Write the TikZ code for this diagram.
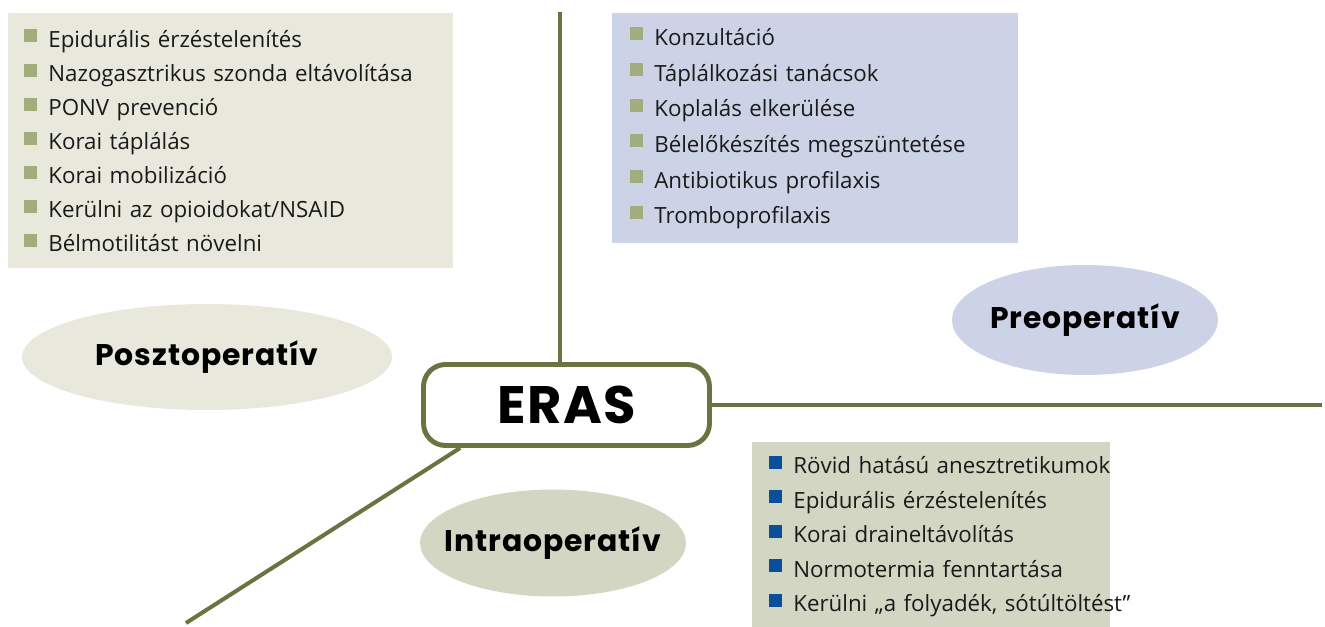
\documentclass[tikz,border=0pt]{standalone}
\usepackage{fontspec}
\setmainfont{Open Sans}
\newfontfamily\headfont[LetterSpace=3]{Poppins}
\usetikzlibrary{shapes.geometric, positioning}

\definecolor{postfill}{HTML}{E8E9DC}
\definecolor{prefill}{HTML}{CDD3E7}
\definecolor{intrafill}{HTML}{D2D6C2}
\definecolor{bulgreen}{HTML}{A2AD7E}
\definecolor{bulblue}{HTML}{0A4F9B}
\definecolor{branchcol}{HTML}{6A7442}
\definecolor{textcol}{HTML}{1A1A1A}

\newlength\ind
\newcommand{\gitem}[1]{\hspace*{\ind}\mbox{\textcolor{bulgreen}{\rule[0.1cm]{0.26cm}{0.26cm}}\hspace{0.22cm}#1}}
\newcommand{\bitem}[1]{\hspace*{\ind}\mbox{\textcolor{bulblue}{\rule[0.1cm]{0.26cm}{0.26cm}}\hspace{0.22cm}#1}}
\newcommand{\phasetext}[1]{\makebox[0pt]{#1}}

\tikzset{
  x=0.02cm, y=-0.02cm,
  branch/.style={draw=branchcol, line width=2.3pt},
  listbox/.style={anchor=north west, align=left, inner xsep=0pt, inner ysep=0pt,
    text=textcol, font=\fontsize{12.7}{19.4}\selectfont},
  phase/.style={ellipse, inner sep=0pt, font=\headfont\bfseries\fontsize{17}{20}\selectfont},
  hub/.style={draw=branchcol, line width=2.8pt, rounded corners=0.44cm, fill=white,
    minimum width=5.72cm, minimum height=1.62cm,
    font=\headfont\bfseries\fontsize{30}{34}\selectfont}
}

\begin{document}
\begin{tikzpicture}
  \useasboundingbox (0,0) rectangle (1325,626);

  % lists
  \node[listbox, fill=postfill, text width=8.9cm, minimum height=5.1cm,
    execute at begin node={\setlength{\ind}{0.32cm}}] (postlist) at (8,13) {%
    \gitem{Epidurális érzéstelenítés}\\
    \gitem{Nazogasztrikus szonda eltávolítása}\\
    \gitem{PONV prevenció}\\
    \gitem{Korai táplálás}\\
    \gitem{Korai mobilizáció}\\
    \gitem{Kerülni az opioidokat/NSAID}\\
    \gitem{Bélmotilitást növelni}};
  \node[listbox, fill=prefill, text width=8.12cm, minimum height=4.6cm,
    font=\fontsize{12.7}{20.3}\selectfont,
    execute at begin node={\setlength{\ind}{0.36cm}}] (prelist) at (612,13) {%
    \gitem{Konzultáció}\\
    \gitem{Táplálkozási tanácsok}\\
    \gitem{Koplalás elkerülése}\\
    \gitem{Bélelőkészítés megszüntetése}\\
    \gitem{Antibiotikus profilaxis}\\
    \gitem{Tromboprofilaxis}};
  \node[listbox, fill=intrafill, text width=7.16cm, minimum height=3.76cm,
    font=\fontsize{12.7}{19.6}\selectfont,
    execute at begin node={\setlength{\ind}{0.34cm}}] (intralist) at (752,442) {%
    \bitem{Rövid hatású anesztretikumok}\\
    \bitem{Epidurális érzéstelenítés}\\
    \bitem{Korai draineltávolítás}\\
    \bitem{Normotermia fenntartása}\\
    \bitem{Kerülni „a folyadék, sótúltöltést”}};

  % phases
  \node[phase, fill=postfill, minimum width=7.4cm, minimum height=2.12cm] (post) at (207,357) {\phasetext{Posztoperatív}};
  \node[phase, fill=prefill, minimum width=5.32cm, minimum height=2.2cm] (pre) at (1085,320) {\phasetext{Preoperatív}};
  \node[phase, fill=intrafill, minimum width=5.32cm, minimum height=2.14cm] (intra) at (553,543) {\phasetext{Intraoperatív}};

  % hub and branches
  \node[hub] (eras) at (566.5,405) {ERAS};
  \coordinate (posttop) at (560,12);
  \coordinate (preend) at (1322,405);
  \coordinate (intraend) at (186,623);
  \draw[branch] (eras.north -| posttop) -- (posttop);
  \draw[branch] (eras.east) -- (preend);
  \draw[branch] (eras.202) -- (intraend);
\end{tikzpicture}
\end{document}
